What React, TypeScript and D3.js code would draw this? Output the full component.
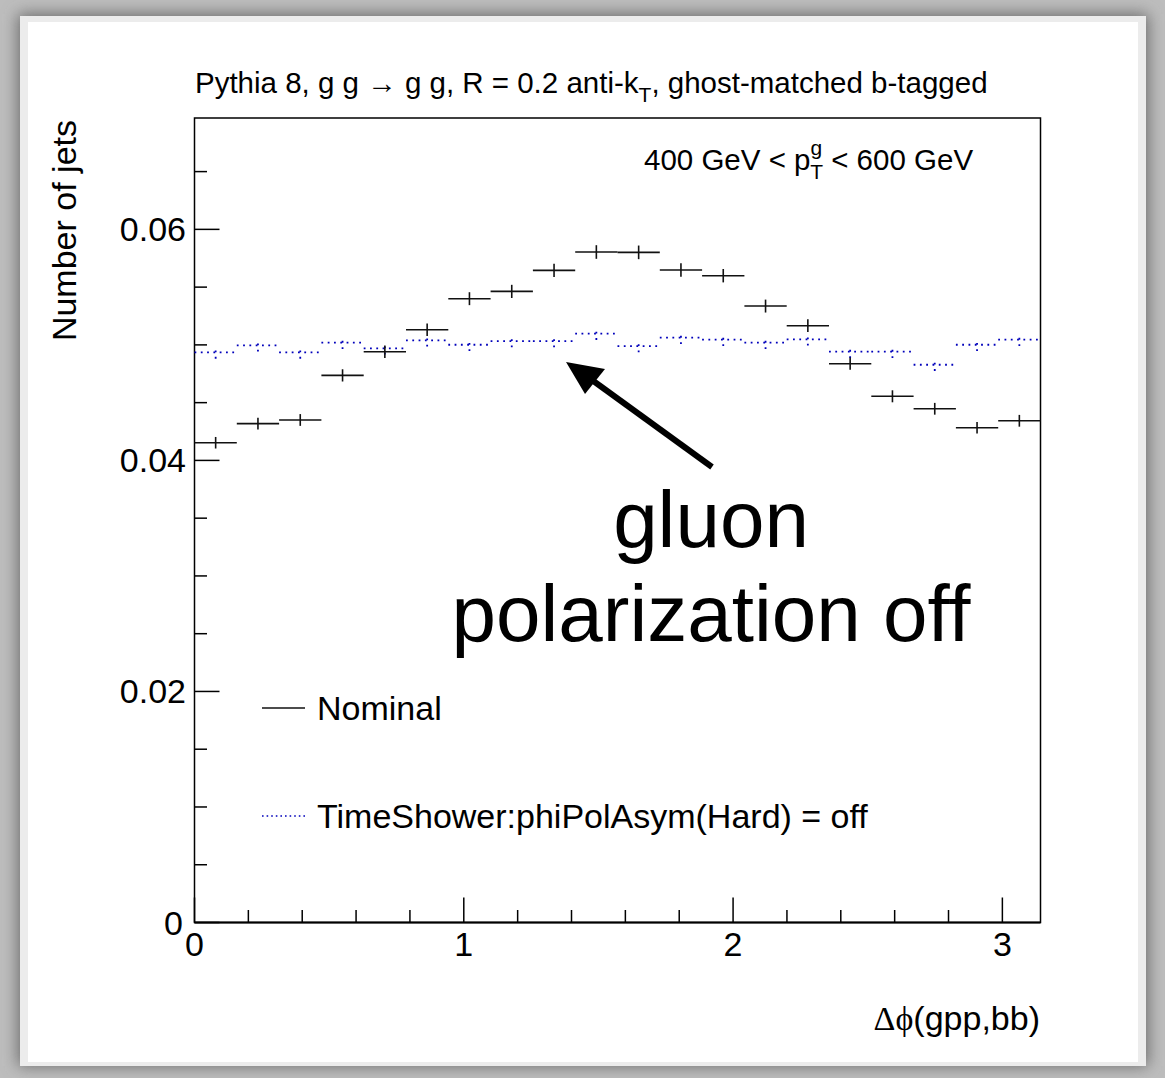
import React from "react";
import * as d3 from "d3";

const nBins = 20;
const nominalValues = [0.04153, 0.04318, 0.0435, 0.04736, 0.04941, 0.05131, 0.054, 0.05463, 0.05645, 0.05804, 0.05801, 0.05648, 0.05599, 0.05336, 0.05166, 0.04837, 0.04555, 0.04447, 0.04283, 0.04343];
const nominalErrors = [0.0005, 0.00051, 0.00051, 0.00053, 0.00054, 0.00055, 0.00056, 0.00057, 0.00058, 0.00059, 0.00059, 0.00058, 0.00058, 0.00056, 0.00055, 0.00053, 0.00052, 0.00051, 0.0005, 0.00051];
const polOffValues = [0.04935, 0.04996, 0.04935, 0.05019, 0.0497, 0.05039, 0.05001, 0.05033, 0.05033, 0.05097, 0.0499, 0.05062, 0.05045, 0.05019, 0.05048, 0.04941, 0.04941, 0.04828, 0.05001, 0.05045];
const polOffErrors = [0.00054, 0.00054, 0.00054, 0.00054, 0.00054, 0.00054, 0.00054, 0.00054, 0.00054, 0.00054, 0.00054, 0.00054, 0.00054, 0.00054, 0.00054, 0.00054, 0.00054, 0.00053, 0.00054, 0.00054];
const xMajorTicks = [0, 1, 2, 3];
const yMajorTicks = [0, 0.02, 0.04, 0.06];
const yTickLabels = ["0", "0.02", "0.04", "0.06"];
const legendLabels = ["Nominal", "TimeShower:phiPolAsym(Hard) = off"];

const SANS = "'Liberation Sans', Arial, Helvetica, sans-serif";

export default function App() {
  const W = 1165, H = 1078;
  const fx0 = 194.5, fx1 = 1040.5, fy0 = 118, fy1 = 922.5;
  const x = d3.scaleLinear().domain([0, Math.PI]).range([fx0, fx1]);
  const y = d3.scaleLinear().domain([0, 0.06964]).range([fy1, fy0]);
  const bw = Math.PI / nBins;

  const xMinor = d3.range(0, 3.25, 0.2).filter((v) => x(v) <= fx1 + 0.1 && Math.abs(v - Math.round(v)) > 1e-6);
  const yMinor = d3.range(0.005, 0.07, 0.005).filter((v) => Math.abs(v / 0.02 - Math.round(v / 0.02)) > 1e-6 && y(v) >= fy0);

  const bins = d3.range(nBins).map((i) => ({ lo: i * bw, hi: (i + 1) * bw, c: (i + 0.5) * bw }));

  return (
    <svg width={W} height={H} style={{ position: "fixed", left: 0, top: 0, display: "block" }}>
      <defs>
        <filter id="shadow" x="-5%" y="-5%" width="110%" height="110%">
          <feGaussianBlur stdDeviation="8" />
        </filter>
      </defs>
      <rect x={0} y={0} width={W} height={H} fill="#bdbdbd" />
      <rect x={18} y={14} width={1130} height={1052} fill="#6a6a6a" filter="url(#shadow)" />
      <rect x={20} y={16} width={1126} height={1050} fill="#ececec" />
      <rect x={28} y={22} width={1110} height={1040} fill="#ffffff" />

      {/* frame */}
      <rect x={fx0} y={fy0} width={fx1 - fx0} height={fy1 - fy0} fill="none" stroke="#000" strokeWidth={1.5} />
      <line x1={fx0} x2={fx1} y1={fy1} y2={fy1} stroke="#000" strokeWidth={2.2} />

      {/* y ticks */}
      {yMajorTicks.map((v, i) => (
        <g key={"ym" + i}>
          <line x1={fx0} x2={fx0 + 25} y1={y(v)} y2={y(v)} stroke="#000" strokeWidth={1.5} />
          <text x={i === 0 ? 183 : 186} y={i === 0 ? y(v) + 12 : y(v) + 12} textAnchor="end" fontFamily={SANS} fontSize={34} fill="#000">
            {yTickLabels[i]}
          </text>
        </g>
      ))}
      {yMinor.map((v, i) => (
        <line key={"yn" + i} x1={fx0} x2={fx0 + 12.5} y1={y(v)} y2={y(v)} stroke="#000" strokeWidth={1.5} />
      ))}

      {/* x ticks */}
      {xMajorTicks.map((v, i) => (
        <g key={"xm" + i}>
          <line x1={x(v)} x2={x(v)} y1={fy1} y2={fy1 - 25} stroke="#000" strokeWidth={1.5} />
          <text x={x(v)} y={956} textAnchor="middle" fontFamily={SANS} fontSize={34} fill="#000">
            {String(v)}
          </text>
        </g>
      ))}
      {xMinor.map((v, i) => (
        <line key={"xn" + i} x1={x(v)} x2={x(v)} y1={fy1} y2={fy1 - 12.5} stroke="#000" strokeWidth={1.5} />
      ))}

      {/* polarization-off histogram (blue dotted) */}
      {bins.map((b, i) => (
        <g key={"b" + i} stroke="#0000bb" strokeWidth={1.8} strokeDasharray="1.8 4.5">
          <line x1={x(b.lo)} x2={x(b.hi)} y1={y(polOffValues[i])} y2={y(polOffValues[i])} />
          <line x1={x(b.c)} x2={x(b.c)} y1={y(polOffValues[i] - polOffErrors[i])} y2={y(polOffValues[i] + polOffErrors[i])} />
        </g>
      ))}

      {/* nominal histogram (black) */}
      {bins.map((b, i) => (
        <g key={"n" + i} stroke="#111" strokeWidth={1.6}>
          <line x1={x(b.lo)} x2={x(b.hi)} y1={y(nominalValues[i])} y2={y(nominalValues[i])} />
          <line x1={x(b.c)} x2={x(b.c)} y1={y(nominalValues[i] - nominalErrors[i])} y2={y(nominalValues[i] + nominalErrors[i])} />
        </g>
      ))}

      {/* title */}
      <text x={195} y={93} fontFamily={SANS} fontSize={29.5} fill="#000">
        Pythia 8, g g → g g, R = 0.2 anti-k
        <tspan fontSize={21} dy={9}>T</tspan>
        <tspan dy={-9}>, ghost-matched b-tagged</tspan>
      </text>

      {/* pT range */}
      <text x={644} y={170} fontFamily={SANS} fontSize={29.5} fill="#000">
        400 GeV &lt; p
        <tspan fontSize={21} dy={-15}>g</tspan>
        <tspan fontSize={21} dx={-12} dy={24}>T</tspan>
        <tspan dy={-9}> &lt; 600 GeV</tspan>
      </text>

      {/* axis titles */}
      <text transform="translate(76,120) rotate(-90)" textAnchor="end" fontFamily={SANS} fontSize={34} fill="#000">
        Number of jets
      </text>
      <text x={1040} y={1030} textAnchor="end" fontFamily={SANS} fontSize={34} fill="#000">
        <tspan fontFamily="'Liberation Serif', serif">Δϕ</tspan>(gpp,bb)
      </text>

      {/* legend */}
      <line x1={262} x2={305} y1={708} y2={708} stroke="#111" strokeWidth={1.6} />
      <text x={317} y={720} fontFamily={SANS} fontSize={34} fill="#000">{legendLabels[0]}</text>
      <line x1={262} x2={305} y1={816} y2={816} stroke="#0000bb" strokeWidth={1.6} strokeDasharray="1.6 3" />
      <text x={317} y={828} fontFamily={SANS} fontSize={34} fill="#000">{legendLabels[1]}</text>

      {/* annotation */}
      <line x1={712} y1={467} x2={592} y2={380} stroke="#000" strokeWidth={6} />
      <polygon points="566,362 605,369 585,394" fill="#000" />
      <text x={711} y={547} textAnchor="middle" fontFamily={SANS} fontSize={80} fill="#000">gluon</text>
      <text x={711} y={641} textAnchor="middle" fontFamily={SANS} fontSize={80} fill="#000">polarization off</text>
    </svg>
  );
}
